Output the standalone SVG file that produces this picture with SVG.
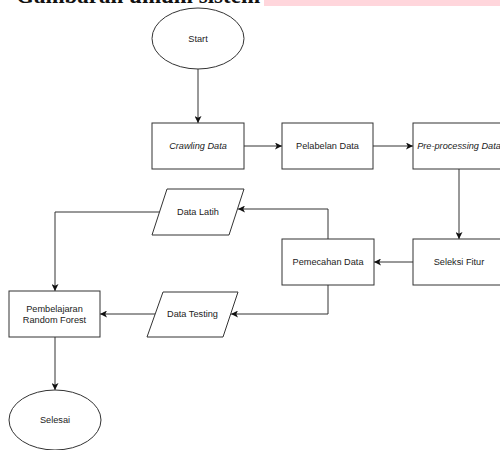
<svg xmlns="http://www.w3.org/2000/svg" width="500" height="450" viewBox="0 0 500 450">
<defs>
<style>
.box{fill:#fff;stroke:#333;stroke-width:1}
.ln{fill:none;stroke:#333;stroke-width:1}
.t{font-family:"Liberation Sans",Arial,sans-serif;font-size:9.2px;fill:#222;text-anchor:middle}
.i{font-style:italic}
</style>
<marker id="ah" viewBox="0 0 8 8" refX="8" refY="4" markerWidth="7" markerHeight="7" markerUnits="userSpaceOnUse" orient="auto">
<path d="M0,0 L8,4 L0,8 L2,4 Z" fill="#111"/>
</marker>
</defs>
<rect width="500" height="450" fill="#fff"/>
<rect x="264" y="0" width="236" height="6" fill="#ffd6dc"/>
<text x="16" y="2.5" font-family="Liberation Serif,serif" font-weight="bold" font-size="23px" fill="#111">Gambaran umum sistem</text>

<g id="connectors">
<path class="ln" d="M198,69 V123" marker-end="url(#ah)"/>
<path class="ln" d="M244,146 H282" marker-end="url(#ah)"/>
<path class="ln" d="M373,146 H413" marker-end="url(#ah)"/>
<path class="ln" d="M459,169 V239" marker-end="url(#ah)"/>
<path class="ln" d="M413,262 H374" marker-end="url(#ah)"/>
<path class="ln" d="M328,239 V209 H238" marker-end="url(#ah)"/>
<path class="ln" d="M328,285 V314 H231" marker-end="url(#ah)"/>
<path class="ln" d="M160,212 H55 V291" marker-end="url(#ah)"/>
<path class="ln" d="M155,314 H100" marker-end="url(#ah)"/>
<path class="ln" d="M55,337 V390" marker-end="url(#ah)"/>
</g>

<g id="start">
<ellipse class="box" cx="198" cy="38.5" rx="46" ry="30.5"/>
<text class="t" x="198" y="41.5">Start</text>
</g>
<g id="crawling">
<rect class="box" x="152" y="123" width="92" height="46"/>
<text class="t i" x="198" y="149">Crawling Data</text>
</g>
<g id="pelabelan">
<rect class="box" x="282" y="123" width="91" height="46"/>
<text class="t" x="327.5" y="149">Pelabelan Data</text>
</g>
<g id="preprocessing">
<rect class="box" x="413" y="123" width="92" height="46"/>
<text class="t i" x="459" y="149">Pre-processing Data</text>
</g>
<g id="seleksi">
<rect class="box" x="413" y="239" width="92" height="46"/>
<text class="t" x="459" y="265">Seleksi Fitur</text>
</g>
<g id="pemecahan">
<rect class="box" x="282" y="239" width="92" height="46"/>
<text class="t" x="328" y="265">Pemecahan Data</text>
</g>
<g id="datalatih">
<polygon class="box" points="167,189 244,189 229,235 152,235"/>
<text class="t" x="198" y="215">Data Latih</text>
</g>
<g id="datatesting">
<polygon class="box" points="163,292 238,292 223,337 147,337"/>
<text class="t" x="192.5" y="317">Data Testing</text>
</g>
<g id="pembelajaran">
<rect class="box" x="9" y="291" width="91" height="46"/>
<text class="t" x="54.5" y="311.5">Pembelajaran</text>
<text class="t" x="54.5" y="322.5">Random Forest</text>
</g>
<g id="selesai">
<ellipse class="box" cx="55" cy="420" rx="46" ry="30"/>
<text class="t" x="55" y="423">Selesai</text>
</g>
</svg>
